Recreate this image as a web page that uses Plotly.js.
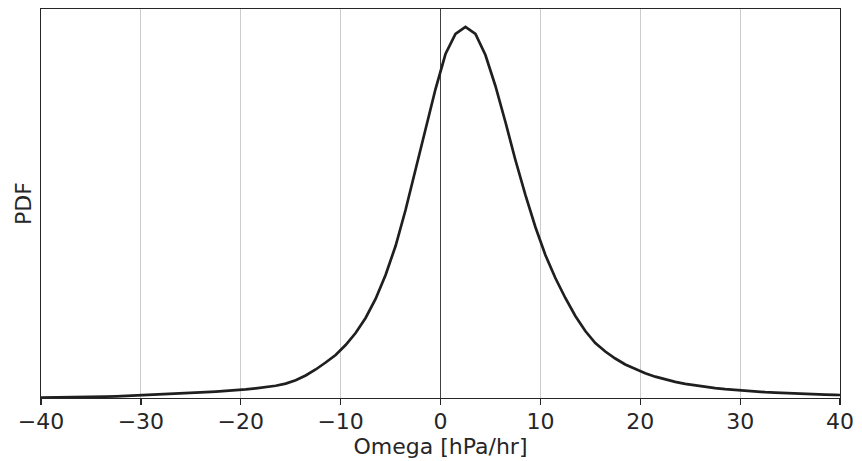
<!DOCTYPE html>
<html>
<head>
<meta charset="utf-8">
<script src="https://cdn.plot.ly/plotly-3.0.1.min.js"></script>
<style>html,body{margin:0;padding:0;background:#fff;}#chart{width:862px;height:461px;}</style>
</head>
<body>
<div id="chart"></div>
<script>
// Bin centres of omega (hPa/hr)
const omega = [
 -40.5,
 -39.5,-38.5,-37.5,-36.5,-35.5,-34.5,-33.5,-32.5,-31.5,-30.5,
 -29.5,-28.5,-27.5,-26.5,-25.5,-24.5,-23.5,-22.5,-21.5,-20.5,
 -19.5,-18.5,-17.5,-16.5,-15.5,-14.5,-13.5,-12.5,-11.5,-10.5,
 -9.5,-8.5,-7.5,-6.5,-5.5,-4.5,-3.5,-2.5,-1.5,-0.5,
 0.5,1.5,2.5,3.5,4.5,5.5,6.5,7.5,8.5,9.5,
 10.5,11.5,12.5,13.5,14.5,15.5,16.5,17.5,18.5,19.5,
 20.5,21.5,22.5,23.5,24.5,25.5,26.5,27.5,28.5,29.5,
 30.5,31.5,32.5,33.5,34.5,35.5,36.5,37.5,38.5,39.5,
 40.5
];
// Estimated PDF values
const pdf = [
 0.00008,
 0.00010,0.00013,0.00015,0.00018,0.00023,0.00028,0.00036,0.00044,0.00054,0.00067,
 0.00080,0.00090,0.00100,0.00111,0.00123,0.00136,0.00149,0.00165,0.00180,0.00198,
 0.00221,0.00249,0.00275,0.00314,0.00370,0.00455,0.00578,0.00733,0.00913,0.01105,
 0.01362,0.01671,0.02057,0.02545,0.03162,0.03907,0.04833,0.05861,0.06967,0.07943,
 0.08843,0.09357,0.09537,0.09357,0.08817,0.08021,0.07095,0.06118,0.05219,0.04396,
 0.03676,0.03085,0.02571,0.02108,0.01722,0.01414,0.01195,0.01015,0.00861,0.00738,
 0.00635,0.00548,0.00476,0.00414,0.00362,0.00319,0.00283,0.00252,0.00226,0.00203,
 0.00183,0.00165,0.00149,0.00136,0.00123,0.00113,0.00103,0.00095,0.00087,0.00080,
 0.00074
];
const xTicks = [-40,-30,-20,-10,0,10,20,30,40];

const font = {family: 'DejaVu Sans, sans-serif', size: 22, color: '#262626'};

Plotly.newPlot('chart', [{
  x: omega, y: pdf, type: 'scatter', mode: 'lines',
  line: {color: '#1f1f1f', width: 2.7, shape: 'linear'},
  hoverinfo: 'skip', showlegend: false
}], {
  width: 862, height: 461,
  margin: {l: 41, r: 22, t: 9, b: 63},
  paper_bgcolor: '#ffffff', plot_bgcolor: '#ffffff',
  font: font,
  xaxis: {
    range: [-40, 40], tickvals: xTicks,
    showgrid: true, gridcolor: '#cccccc', gridwidth: 1,
    zeroline: true, zerolinecolor: '#404040', zerolinewidth: 1.6,
    showline: true, linecolor: '#262626', linewidth: 1.25, mirror: true,
    ticks: 'outside', ticklen: 6, tickwidth: 1.25, tickcolor: '#262626',
    ticklabelstandoff: -3,
    tickfont: font,
    title: {text: 'Omega [hPa/hr]', font: font, standoff: 4}
  },
  yaxis: {
    range: [0, 0.1],
    showgrid: false, zeroline: false, showticklabels: false, ticks: '',
    showline: true, linecolor: '#262626', linewidth: 1.25, mirror: true,
    title: {text: 'PDF', font: font, standoff: 2}
  }
}, {staticPlot: true, displayModeBar: false});
</script>
</body>
</html>
